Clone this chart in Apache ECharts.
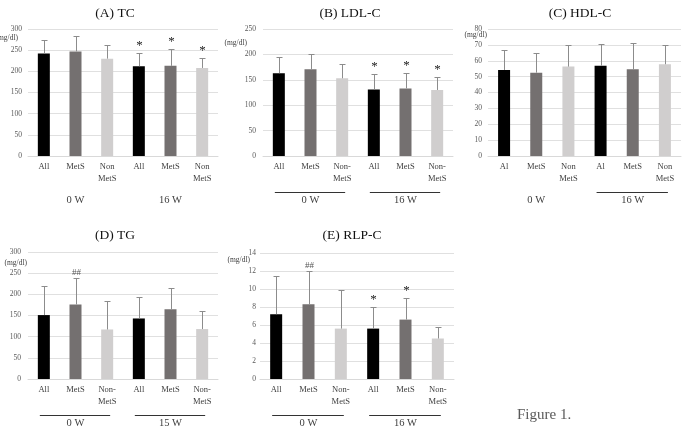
<!DOCTYPE html>
<html>
<head>
<meta charset="utf-8">
<script src="https://cdn.jsdelivr.net/npm/echarts@6/dist/echarts.min.js"></script>
<style>
  html, body { margin: 0; padding: 0; background: #fff; }
  #chart { width: 683px; height: 444px; }
</style>
</head>
<body>
<div id="chart"></div>
<script>
// categories
const catsA = ["All", "MetS", "Non\nMetS", "All", "MetS", "Non\nMetS"];
const catsB = ["All", "MetS", "Non-\nMetS", "All", "MetS", "Non-\nMetS"];
const catsC = ["Al", "MetS", "Non\nMetS", "Al", "MetS", "Non\nMetS"];
const weeks16 = ["0 W", "16 W"];
const weeks15 = ["0 W", "15 W"];

// mean and SD per bar (0 W: All, MetS, Non-MetS / 16 W: All, MetS, Non-MetS)
const tcMean = [242, 247, 230, 212, 213, 208];
const tcSD = [32, 36, 32, 31, 39, 24];
const ldlMean = [163, 171, 153, 131, 133, 130];
const ldlSD = [31, 29, 28, 30, 31, 26];
const hdlMean = [54.2, 52.5, 56.3, 56.9, 54.6, 57.8];
const hdlSD = [12.6, 12.2, 13.7, 13.7, 16.8, 12.2];
const tgMean = [151, 176, 117, 143, 165, 118];
const tgSD = [69, 62, 68, 51, 51, 43];
const rlpMean = [7.2, 8.3, 5.6, 5.6, 6.6, 4.5];
const rlpSD = [4.2, 3.7, 4.3, 2.4, 2.4, 1.3];

// significance marks
const tcMarks = ["", "", "", "*", "*", "*"];
const ldlMarks = ["", "", "", "*", "*", "*"];
const hdlMarks = ["", "", "", "", "", ""];
const tgMarks = ["", "##", "", "", "", ""];
const rlpMarks = ["", "##", "", "*", "*", ""];

const barColors = ["#000000", "#747070", "#d0cece"];
const serif = "Liberation Serif";

const panels = [
  { title: "(A) TC", cats: catsA, weeks: weeks16, mean: tcMean, sd: tcSD, marks: tcMarks,
    max: 300, interval: 50, grid: { left: 28, top: 29, width: 190, height: 127 },
    titleX: 115, titleY: 13, unit: [-10, 9], lines: [false, false], labelMargin: 6 },
  { title: "(B) LDL-C", cats: catsB, weeks: weeks16, mean: ldlMean, sd: ldlSD, marks: ldlMarks,
    max: 250, interval: 50, grid: { left: 263, top: 29, width: 190, height: 127 },
    titleX: 350, titleY: 13, unit: [-16, 14], lines: [true, true], labelMargin: 7 },
  { title: "(C) HDL-C", cats: catsC, weeks: weeks16, mean: hdlMean, sd: hdlSD, marks: hdlMarks,
    max: 80, interval: 10, grid: { left: 488, top: 29, width: 193, height: 127 },
    titleX: 580, titleY: 13, unit: [-1, 6], lines: [false, true], labelMargin: 6 },
  { title: "(D) TG", cats: catsB, weeks: weeks15, mean: tgMean, sd: tgSD, marks: tgMarks,
    max: 300, interval: 50, grid: { left: 28, top: 252, width: 190, height: 127 },
    titleX: 115, titleY: 235, unit: [-1, 11], lines: [true, true], labelMargin: 7 },
  { title: "(E) RLP-C", cats: catsB, weeks: weeks16, mean: rlpMean, sd: rlpSD, marks: rlpMarks,
    max: 14, interval: 2, grid: { left: 260, top: 253, width: 194, height: 126 },
    titleX: 352, titleY: 235, unit: [-10, 7], lines: [true, true], labelMargin: 4 }
];

const myChart = echarts.init(document.getElementById("chart"));

const grid = [], xAxis = [], yAxis = [], series = [], graphic = [];

panels.forEach((p, i) => {
  grid.push(p.grid);
  xAxis.push({
    type: "category", gridIndex: i, data: p.cats,
    axisLine: { lineStyle: { color: "#d9d9d9" } },
    axisTick: { show: false },
    axisLabel: { margin: 5, fontFamily: serif, fontSize: 8.5, lineHeight: 12, color: "#404040", interval: 0 }
  });
  xAxis.push({
    type: "category", gridIndex: i, data: p.weeks, position: "bottom",
    axisLine: { show: false }, axisTick: { show: false },
    axisLabel: { margin: 39, fontFamily: serif, fontSize: 10.5, color: "#404040" }
  });
  yAxis.push({
    type: "value", gridIndex: i, min: 0, max: p.max, interval: p.interval,
    axisLine: { show: false }, axisTick: { show: false },
    splitLine: { lineStyle: { color: "#e0e0e0" } },
    axisLabel: { margin: p.labelMargin, fontFamily: serif, fontSize: 7.5, color: "#595959" }
  });
  series.push({
    type: "bar", xAxisIndex: 2 * i, yAxisIndex: i, barWidth: 12,
    data: p.mean.map((v, k) => ({ value: v, itemStyle: { color: barColors[k % 3] } }))
  });
  series.push({
    type: "custom", xAxisIndex: 2 * i, yAxisIndex: i, z: 5,
    data: p.mean.map((v, k) => [k, v, p.sd[k]]),
    renderItem: function (params, api) {
      const x = api.value(0), m = api.value(1), s = api.value(2);
      const base = api.coord([x, m]);
      const top = api.coord([x, m + s]);
      const cx = Math.round(top[0]) + 0.5;
      const ty = Math.round(top[1]) + 0.5;
      const children = [
        { type: "line", shape: { x1: cx, y1: base[1], x2: cx, y2: ty }, style: { stroke: "#8c8c8c", lineWidth: 1 } },
        { type: "line", shape: { x1: cx - 3, y1: ty, x2: cx + 3, y2: ty }, style: { stroke: "#8c8c8c", lineWidth: 1 } }
      ];
      const mark = p.marks[params.dataIndex];
      if (mark) {
        children.push({
          type: "text",
          style: {
            text: mark, x: cx, y: ty - 1, align: "center", verticalAlign: "bottom",
            font: (mark === "*" ? "13px " : "9px ") + serif,
            fill: mark === "*" ? "#222" : "#555"
          }
        });
      }
      return { type: "group", children: children };
    }
  });
  graphic.push({
    type: "text", left: p.titleX, top: p.titleY,
    style: { text: p.title, font: "13.5px " + serif, fill: "#111", align: "center", verticalAlign: "middle" },
    x: p.titleX, y: p.titleY
  });
  graphic.push({
    type: "text", x: p.grid.left + p.unit[0], y: p.grid.top + p.unit[1],
    style: { text: "(mg/dl)", font: "7.5px " + serif, fill: "#404040", align: "right", verticalAlign: "middle" }
  });
});

graphic.push({
  type: "text", x: 517, y: 415,
  style: { text: "Figure 1.", font: "15px " + serif, fill: "#595959", verticalAlign: "middle" }
});

// titles placed by x/y only
graphic.forEach(g => { delete g.left; delete g.top; });

myChart.setOption({
  animation: false,
  grid: grid,
  xAxis: xAxis,
  yAxis: yAxis,
  series: series,
  graphic: graphic
});

// group underlines under each week label
const lines = [];
panels.forEach((p, i) => {
  p.lines.forEach((on, g) => {
    if (!on) return;
    const a = myChart.convertToPixel({ xAxisIndex: 2 * i }, g * 3);
    const b = myChart.convertToPixel({ xAxisIndex: 2 * i }, g * 3 + 2);
    const y = p.grid.top + p.grid.height + 36.5;
    lines.push({
      type: "line", shape: { x1: a - 4, y1: y, x2: b + 3, y2: y },
      style: { stroke: "#333", lineWidth: 1 }
    });
  });
});
myChart.setOption({ graphic: graphic.concat(lines) });

window.addEventListener("resize", function () {
  myChart.resize();
});
</script>
</body>
</html>
